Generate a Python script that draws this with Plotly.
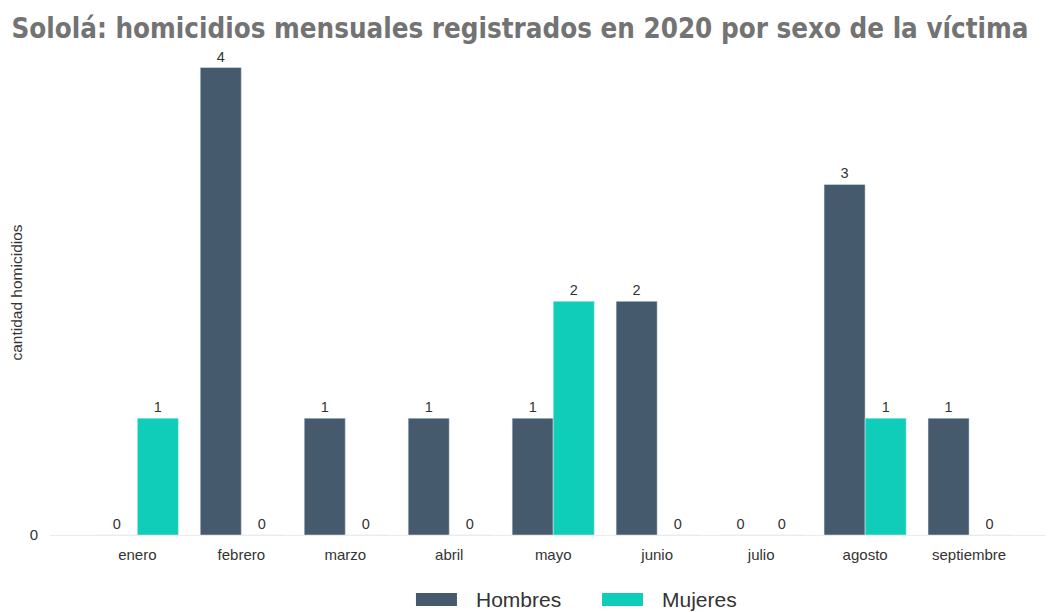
import plotly.graph_objects as go

meses = ["enero", "febrero", "marzo", "abril", "mayo", "junio", "julio", "agosto", "septiembre"]
hombres = [0, 4, 1, 1, 1, 2, 0, 3, 1]
mujeres = [1, 0, 0, 0, 2, 0, 0, 1, 0]
series = [("Hombres", hombres, "#465A6E"), ("Mujeres", mujeres, "#0FCDB9")]

font_txt = dict(family="Liberation Sans, Arial, sans-serif", size=15, color="#333333")
font_val = dict(family="Liberation Sans, Arial, sans-serif", size=14.5, color="#333333")

fig = go.Figure()
for name, vals, col in series:
    fig.add_trace(go.Bar(name=name, x=meses, y=vals, marker_color=col,
                         text=vals, textposition="outside", textfont=font_val,
                         cliponaxis=False, showlegend=False))

# manual legend with wide swatches (paper coordinates)
leg_items = [("Hombres", "#465A6E", 0.3678), ("Mujeres", "#0FCDB9", 0.5548)]
for name, col, x0 in leg_items:
    fig.add_shape(type="rect", xref="paper", yref="paper", x0=x0, x1=x0 + 0.0412,
                  y0=-0.1464, y1=-0.1196, fillcolor=col, line=dict(width=0))
    fig.add_annotation(xref="paper", yref="paper", x=x0 + 0.0585, y=-0.133, text=name,
                       showarrow=False, xanchor="left", yanchor="middle",
                       font=dict(family="Liberation Sans, Arial, sans-serif", size=21, color="#333333"))

fig.update_layout(
    width=1047, height=604,
    barmode="group", bargap=0.21, bargroupgap=0,
    plot_bgcolor="white", paper_bgcolor="white",
    margin=dict(l=42, r=10, t=42, b=77, autoexpand=False),
    showlegend=False,
    title=dict(text="<b>Sololá: homicidios mensuales registrados en 2020 por sexo de la víctima</b>",
               x=0.489, xanchor="center", y=0.967, yanchor="middle", yref="container",
               font=dict(family="DejaVu Sans Condensed, Open Sans, sans-serif", size=27.5, color="#737373")),
    xaxis=dict(range=[-0.84, 8.73], showgrid=False, showline=False,
               ticks="outside", ticklen=6, tickcolor="white",
               tickfont=font_txt, automargin=False),
    yaxis=dict(range=[0, 4.15], tickvals=[0], ticktext=["0"], showgrid=True, gridcolor="#EBEBEB",
               zeroline=True, zerolinecolor="#EBEBEB", zerolinewidth=1,
               ticks="outside", ticklen=8, tickcolor="white",
               tickfont=font_txt, automargin=False,
               title=dict(text="cantidad homicidios", font=dict(family="Liberation Sans, Arial, sans-serif", size=15.5, color="#333333"), standoff=5)),
)

fig.write_html("out.html")
